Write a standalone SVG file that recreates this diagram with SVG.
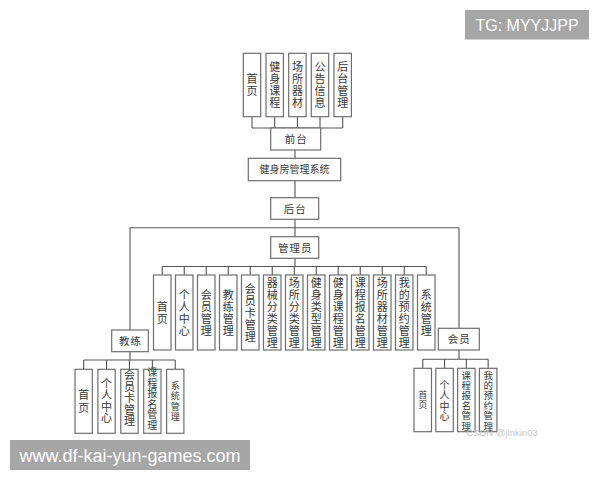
<svg xmlns="http://www.w3.org/2000/svg" width="600" height="480" viewBox="0 0 600 480">
<style>
.box{fill:#fff;stroke:#6e6e6e;stroke-width:1.2}
.ln{fill:none;stroke:#555;stroke-width:1.1}
.t{font-family:"Noto Sans CJK SC","Noto Sans CJK JP",sans-serif;fill:#383838;text-anchor:middle}
.vt{writing-mode:vertical-rl;font-size:11px;letter-spacing:1px}
.h{font-size:10.5px;letter-spacing:1px}
.wm{fill:#a6a6a6}
.wmt{font-family:"Liberation Sans",Arial,sans-serif;fill:#fff;text-anchor:middle}
</style>
<rect width="600" height="480" fill="#fff"/>

<g id="connectors" class="ln">
<path d="M252,117 V128 M274.7,117 V128 M297.4,117 V128 M320,117 V128 M342.7,117 V128 M252,128 H342.7"/>
<path d="M295,150 V158.3 M295,180.7 V197.7 M295,219.3 V236.7 M295,258.3 V266.5"/>
<path d="M130,227.7 H459 M130,227.7 V330 M459,227.7 V328.3"/>
<path d="M162.25,266.5 H426.25 M162.25,266.5 V275 M184.25,266.5 V275 M206.25,266.5 V275 M228.25,266.5 V275 M250.25,266.5 V275 M272.25,266.5 V275 M294.25,266.5 V275 M316.25,266.5 V275 M338.25,266.5 V275 M360.25,266.5 V275 M382.25,266.5 V275 M404.25,266.5 V275 M426.25,266.5 V275"/>
<path d="M130,351.7 V360 M83.65,360 H175.25 M83.65,360 V369.3 M106.55,360 V369.3 M129.45,360 V369.3 M152.35,360 V369.3 M175.25,360 V369.3"/>
<path d="M459,350 V359.3 M422.75,359.3 H488.15 M422.75,359.3 V368.3 M444.55,359.3 V368.3 M466.35,359.3 V368.3 M488.15,359.3 V368.3"/>
</g>

<!-- top row -->
<g id="n-top-home"><rect class="box" x="243.3" y="53.3" width="17.4" height="63.4"/>
<text class="t vt" x="252" y="85.5">首页</text></g>
<g id="n-top-course"><rect class="box" x="266" y="53.3" width="17.4" height="63.4"/>
<text class="t vt" x="274.7" y="85.5">健身课程</text></g>
<g id="n-top-equip"><rect class="box" x="288.7" y="53.3" width="17.4" height="63.4"/>
<text class="t vt" x="297.4" y="85.5">场所器材</text></g>
<g id="n-top-notice"><rect class="box" x="311.3" y="53.3" width="17.4" height="63.4"/>
<text class="t vt" x="320" y="85.5">公告信息</text></g>
<g id="n-top-admin"><rect class="box" x="334" y="53.3" width="17.4" height="63.4"/>
<text class="t vt" x="342.7" y="85.5">后台管理</text></g>

<g id="n-frontend"><rect class="box" x="270.7" y="128" width="50" height="22"/>
<text class="t h" x="296.2" y="143">前台</text></g>
<g id="n-system"><rect class="box" x="248.3" y="158.3" width="92.4" height="22.4"/>
<text class="t" style="font-size:10px" x="294.5" y="173.2">健身房管理系统</text></g>
<g id="n-backend"><rect class="box" x="270.7" y="197.7" width="48" height="21.6"/>
<text class="t h" x="295.2" y="212.6">后台</text></g>
<g id="n-manager"><rect class="box" x="270.7" y="236.7" width="48" height="21.6"/>
<text class="t h" x="295.2" y="251.6">管理员</text></g>

<!-- admin children -->
<g id="n-a-home"><rect class="box" x="153.5" y="275" width="17.5" height="75"/>
<text class="t vt" x="162.25" y="313">首页</text></g>
<g id="n-a-center"><rect class="box" x="175.5" y="275" width="17.5" height="75"/>
<text class="t vt" x="184.25" y="313">个人中心</text></g>
<g id="n-a-member"><rect class="box" x="197.5" y="275" width="17.5" height="75"/>
<text class="t vt" x="206.25" y="313">会员管理</text></g>
<g id="n-a-coach"><rect class="box" x="219.5" y="275" width="17.5" height="75"/>
<text class="t vt" x="228.25" y="313">教练管理</text></g>
<g id="n-a-card"><rect class="box" x="241.5" y="275" width="17.5" height="75"/>
<text class="t vt" x="250.25" y="313">会员卡管理</text></g>
<g id="n-a-equipcat"><rect class="box" x="263.5" y="275" width="17.5" height="75"/>
<text class="t vt" x="272.25" y="313">器械分类管理</text></g>
<g id="n-a-placecat"><rect class="box" x="285.5" y="275" width="17.5" height="75"/>
<text class="t vt" x="294.25" y="313">场所分类管理</text></g>
<g id="n-a-fittype"><rect class="box" x="307.5" y="275" width="17.5" height="75"/>
<text class="t vt" x="316.25" y="313">健身类型管理</text></g>
<g id="n-a-course"><rect class="box" x="329.5" y="275" width="17.5" height="75"/>
<text class="t vt" x="338.25" y="313">健身课程管理</text></g>
<g id="n-a-signup"><rect class="box" x="351.5" y="275" width="17.5" height="75"/>
<text class="t vt" x="360.25" y="313">课程报名管理</text></g>
<g id="n-a-placeequip"><rect class="box" x="373.5" y="275" width="17.5" height="75"/>
<text class="t vt" x="382.25" y="313">场所器材管理</text></g>
<g id="n-a-booking"><rect class="box" x="395.5" y="275" width="17.5" height="75"/>
<text class="t vt" x="404.25" y="313">我的预约管理</text></g>
<g id="n-a-system"><rect class="box" x="417.5" y="275" width="17.5" height="75"/>
<text class="t vt" x="426.25" y="313">系统管理</text></g>

<!-- coach -->
<g id="n-coach"><rect class="box" x="111.7" y="330" width="36.6" height="21.7"/>
<text class="t h" x="130.5" y="344.8">教练</text></g>
<g id="n-c-home"><rect class="box" x="75" y="369.3" width="17.3" height="64"/>
<text class="t vt" style="letter-spacing:2px" x="83.65" y="402.3">首页</text></g>
<g id="n-c-center"><rect class="box" x="97.9" y="369.3" width="17.3" height="64"/>
<text class="t vt" style="letter-spacing:0.3px" x="106.55" y="400.9">个人中心</text></g>
<g id="n-c-card"><rect class="box" x="120.8" y="369.3" width="17.3" height="64"/>
<text class="t vt" style="letter-spacing:0.5px" x="129.45" y="398.5">会员卡管理</text></g>
<g id="n-c-signup"><rect class="box" x="143.7" y="369.3" width="17.3" height="64"/>
<text class="t vt" style="font-size:10px;letter-spacing:0.6px" x="152.35" y="399">课程报名管理</text></g>
<g id="n-c-system"><rect class="box" x="166.6" y="369.3" width="17.3" height="64"/>
<text class="t vt" style="font-size:9px;letter-spacing:1.5px" x="175.25" y="401.7">系统管理</text></g>

<!-- member -->
<g id="n-member"><rect class="box" x="438.3" y="328.3" width="41" height="21.7"/>
<text class="t h" x="459.3" y="343.1">会员</text></g>
<g id="n-m-home"><rect class="box" x="414" y="368.3" width="17.5" height="63.4"/>
<text class="t vt" style="font-size:9px;letter-spacing:1px" x="422.75" y="400.5">首页</text></g>
<g id="n-m-center"><rect class="box" x="435.8" y="368.3" width="17.5" height="63.4"/>
<text class="t vt" style="font-size:10px;letter-spacing:0.6px" x="444.55" y="401">个人中心</text></g>
<g id="n-m-signup"><rect class="box" x="457.6" y="368.3" width="17.5" height="63.4"/>
<text class="t vt" style="font-size:9.5px;letter-spacing:0.6px" x="466.35" y="401">课程报名管理</text></g>
<g id="n-m-booking"><rect class="box" x="479.4" y="368.3" width="17.5" height="63.4"/>
<text class="t vt" style="font-size:9.5px;letter-spacing:0.6px" x="488.15" y="401">我的预约管理</text></g>

<!-- watermarks -->
<text x="502" y="436" style="font-family:'Liberation Sans',Arial,sans-serif;font-size:9.5px;fill:#c8c8c8;text-anchor:middle">CSDN @jinkin03</text>
<rect class="wm" x="465" y="10" width="124" height="29.5"/>
<text class="wmt" x="527" y="31" style="font-size:16px">TG: MYYJJPP</text>
<rect class="wm" x="10" y="440" width="240" height="30"/>
<text class="wmt" x="130" y="461.5" style="font-size:18px">www.df-kai-yun-games.com</text>
</svg>
